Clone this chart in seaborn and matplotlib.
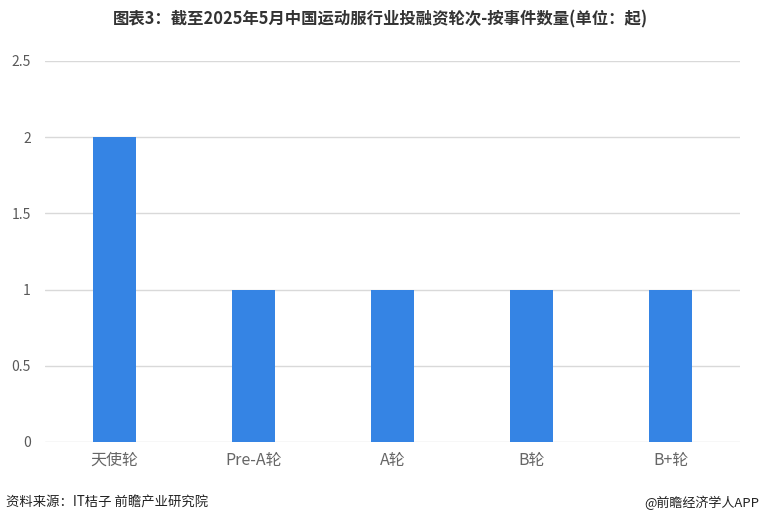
import matplotlib
matplotlib.use("Agg")
import matplotlib.pyplot as plt
import seaborn as sns
import pandas as pd

categories = ["天使轮", "Pre-A轮", "A轮", "B轮", "B+轮"]
values = [2, 1, 1, 1, 1]
yticks = [0, 0.5, 1, 1.5, 2, 2.5]
ytick_labels = ["0", "0.5", "1", "1.5", "2", "2.5"]

sns.set_theme(style="white")
plt.rcParams['font.family'] = ['Noto Sans CJK SC', 'DejaVu Sans']

df = pd.DataFrame({"cat": categories, "val": values})

fig = plt.figure(figsize=(7.6, 5.24), dpi=100)
ax = fig.add_axes([0.059, 0.1565, 0.915, 0.7271])
sns.barplot(data=df, x="cat", y="val", color="#3584E4", width=0.31, saturation=1,
            edgecolor="#3584E4", linewidth=0, ax=ax)

ax.set_xlim(-0.5, 4.5)
ax.set_ylim(0, 2.5)
ax.set_yticks(yticks)
ax.set_yticklabels(ytick_labels)
ax.yaxis.grid(True, color="#D9D9D9", linewidth=1)
ax.set_axisbelow(True)
for s in ax.spines.values():
    s.set_visible(False)
ax.set_xlabel("")
ax.set_ylabel("")
ax.tick_params(axis="y", labelsize=10, colors="#595959", length=0, pad=10)
ax.tick_params(axis="x", labelsize=11.5, colors="#666666", length=0, pad=7)

fig.text(0.5, 0.962, "图表3：截至2025年5月中国运动服行业投融资轮次-按事件数量(单位：起)",
         ha="center", va="center", fontsize=11.8, fontweight="bold", color="#333333")
fig.text(0.008, 0.04, "资料来源：IT桔子 前瞻产业研究院", ha="left", va="center",
         fontsize=9.6, color="#222222")
fig.text(0.999, 0.04, "@前瞻经济学人APP", ha="right", va="center",
         fontsize=9.4, color="#222222")

fig.savefig("out.png", dpi=100)
